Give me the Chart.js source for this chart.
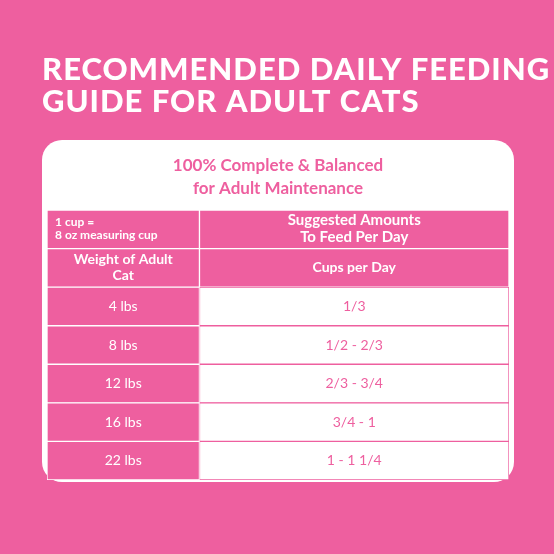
<!DOCTYPE html>
<html><head><meta charset="utf-8">
<script src="https://cdn.jsdelivr.net/npm/chart.js@4/dist/chart.umd.min.js"></script>
<style>html,body{margin:0;padding:0;background:#EE5F9F;}canvas{display:block}</style>
</head><body>
<canvas id="c" width="554" height="554" style="width:554px;height:554px"></canvas>
<script>
const titleLines = ['RECOMMENDED DAILY FEEDING','GUIDE FOR ADULT CATS'];
const subtitleLines = ['100% Complete & Balanced','for Adult Maintenance'];
const rows = ['hdr','weight','4 lbs','8 lbs','12 lbs','16 lbs','22 lbs'];
const leftText = [['1 cup =','8 oz measuring cup'],['Weight of Adult','Cat'],['4 lbs'],['8 lbs'],['12 lbs'],['16 lbs'],['22 lbs']];
const rightText = [['Suggested Amounts','To Feed Per Day'],['Cups per Day'],['1/3'],['1/2 - 2/3'],['2/3 - 3/4'],['3/4 - 1'],['1 - 1 1/4']];
const leftCol = rows.map(()=>[0,33]);
const rightCol = rows.map(()=>[33,100]);
const PINK='#EE5F9F', WHITE='#ffffff';

const tablePlugin = {
  id:'tbl',
  beforeDraw(ch){
    const c=ch.ctx,a=ch.chartArea;
    c.save();
    c.fillStyle=PINK;c.fillRect(0,0,ch.width,ch.height);
    c.fillStyle=WHITE;c.font='900 31px Lato';c.textBaseline='alphabetic';
    try{c.letterSpacing='1px';}catch(e){}
    c.fillText(titleLines[0],42,80);c.fillText(titleLines[1],42,112);
    try{c.letterSpacing='0px';}catch(e){}
    c.beginPath();c.roundRect(a.left-5,a.top-70,a.right-a.left+10,a.bottom-a.top+72,20);c.fill();
    c.fillStyle=PINK;c.font='bold 17px Lato';c.textAlign='center';
    c.fillText(subtitleLines[0],278,171);c.fillText(subtitleLines[1],278,194);
    c.restore();
  },
  afterDatasetsDraw(ch){
    const c=ch.ctx,y=ch.scales.y,x=ch.scales.x;
    c.save();c.textAlign='center';c.textBaseline='middle';
    rows.forEach((r,i)=>{
      const cy=y.getPixelForValue(i);
      const lx=(x.getPixelForValue(0)+x.getPixelForValue(33))/2;
      const rx=(x.getPixelForValue(33)+x.getPixelForValue(100))/2;
      c.fillStyle=WHITE;
      if(i===0){
        c.font='bold 12px Lato';c.textAlign='left';
        c.fillText(leftText[0][0],x.getPixelForValue(0)+8,cy-7);
        c.fillText(leftText[0][1],x.getPixelForValue(0)+8,cy+6);
        c.textAlign='center';c.font='bold 15px Lato';
        c.fillText(rightText[0][0],rx,cy-9);c.fillText(rightText[0][1],rx,cy+8);
      } else if(i===1){
        c.font='bold 14px Lato';
        c.fillText(leftText[1][0],lx,cy-8);c.fillText(leftText[1][1],lx,cy+8);
        c.fillText(rightText[1][0],rx,cy);
      } else {
        c.font='14px Lato';c.fillText(leftText[i][0],lx,cy);
        c.fillStyle=PINK;c.fillText(rightText[i][0],rx,cy);
      }
    });
    c.restore();
  }
};

new Chart(document.getElementById('c'),{
  type:'bar',
  data:{labels:rows,datasets:[
    {data:leftCol,backgroundColor:PINK,borderColor:WHITE,borderWidth:1,borderSkipped:false,barPercentage:1,categoryPercentage:1,grouped:false},
    {data:rightCol,backgroundColor:rows.map((r,i)=>i<2?PINK:WHITE),borderColor:rows.map((r,i)=>i<2?WHITE:PINK),borderWidth:1,borderSkipped:false,barPercentage:1,categoryPercentage:1,grouped:false}
  ]},
  options:{
    indexAxis:'y',responsive:false,animation:false,devicePixelRatio:1,
    layout:{padding:{left:47,right:45,top:210,bottom:74}},
    plugins:{legend:{display:false},tooltip:{enabled:false}},
    scales:{x:{type:'linear',min:0,max:100,display:false},y:{display:false,offset:true}}
  },
  plugins:[tablePlugin]
});
</script>
</body></html>
